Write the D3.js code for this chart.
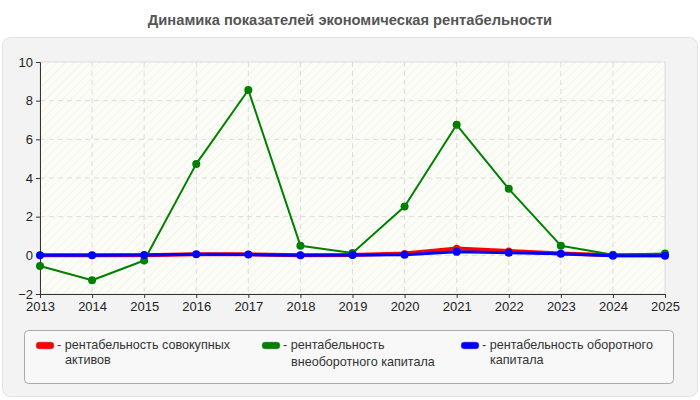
<!DOCTYPE html>
<html><head><meta charset="utf-8">
<script src="https://cdn.jsdelivr.net/npm/d3@7"></script>
<style>body{margin:0;background:#fff;}svg{display:block;font-family:"Liberation Sans",Arial,sans-serif;}</style>
</head><body>
<svg id="c" width="700" height="400"></svg>
<script>
const title = "Динамика показателей экономическая рентабельности";
const years = [2013,2014,2015,2016,2017,2018,2019,2020,2021,2022,2023,2024,2025];
const assets = [0,0,0,0.05,0.05,0,0.02,0.1,0.36,0.22,0.1,0,0];
const nonCurrent = [-0.55,-1.29,-0.27,4.73,8.55,0.5,0.12,2.53,6.75,3.44,0.5,0.03,0.1];
const current = [0,0,0.02,0.05,0.04,0,0.02,0.03,0.18,0.14,0.08,-0.02,-0.02];
const yTicks = [-2,0,2,4,6,8,10];
const seriesNames = [["рентабельность совокупных","активов"],["рентабельность","внеоборотного капитала"],["рентабельность оборотного","капитала"]];
const colors = ["#ff0000","#008000","#0000ff"];

const svg = d3.select("#c");
const defs = svg.append("defs");
const pat = defs.append("pattern").attr("id","hatch").attr("patternUnits","userSpaceOnUse")
  .attr("width",6).attr("height",6).attr("patternTransform","rotate(45)");
pat.append("rect").attr("width",6).attr("height",6).attr("fill","#fdfdf7");
pat.append("line").attr("x1",0).attr("y1",0).attr("x2",0).attr("y2",6).attr("stroke","#ececea").attr("stroke-width",1.2);

// title
svg.append("text").attr("x",350).attr("y",25).attr("text-anchor","middle")
  .attr("font-size",14.7).attr("font-weight","bold").attr("fill","#555").text(title);
// panel
svg.append("rect").attr("x",2.5).attr("y",37.5).attr("width",695).attr("height",359).attr("rx",8)
  .attr("fill","#f3f3f3").attr("stroke","#e2e2e2");

const x = d3.scalePoint().domain(years).range([40,665]);
const y = d3.scaleLinear().domain([-2,10]).range([294,62]);

svg.append("rect").attr("x",40).attr("y",62).attr("width",625).attr("height",232)
  .attr("fill","url(#hatch)").attr("stroke","#dcdcdc");

// grid
const g = svg.append("g");
g.selectAll(".vg").data(years.slice(1,-1)).join("line")
  .attr("x1",d=>x(d)).attr("x2",d=>x(d)).attr("y1",62).attr("y2",294)
  .attr("stroke","#dcdcdc").attr("stroke-dasharray","5,4");
g.selectAll(".hg").data(yTicks.slice(1,-1)).join("line")
  .attr("x1",40).attr("x2",665).attr("y1",d=>y(d)).attr("y2",d=>y(d))
  .attr("stroke","#dcdcdc").attr("stroke-dasharray","5,4");

// axes
const xa = svg.append("g").attr("transform","translate(0,294)")
  .call(d3.axisBottom(x).tickSize(4).tickPadding(4));
const ya = svg.append("g").attr("transform","translate(40,0)")
  .call(d3.axisLeft(y).tickValues(yTicks).tickSize(4).tickPadding(3));
[xa,ya].forEach(a=>{
  a.selectAll("path").attr("stroke","#333");
  a.selectAll("line").attr("stroke","#333");
  a.selectAll("text").attr("font-size",13).attr("fill","#222").attr("font-family","'Liberation Sans',Arial,sans-serif");
});

const data = [assets, nonCurrent, current];
const widths = [4,2,3];
const radii = [3.5,4,4];
const line = d3.line().x((d,i)=>x(years[i])).y(d=>y(d));
data.forEach((s,k)=>{
  svg.append("path").datum(s).attr("d",line).attr("fill","none")
    .attr("stroke",colors[k]).attr("stroke-width",widths[k]).attr("stroke-linejoin","round");
  svg.append("g").selectAll("circle").data(s).join("circle")
    .attr("cx",(d,i)=>x(years[i])).attr("cy",d=>y(d)).attr("r",radii[k]).attr("fill",colors[k]);
});

// legend
svg.append("rect").attr("x",24.5).attr("y",330.5).attr("width",649).attr("height",53).attr("rx",4)
  .attr("fill","#f8f8f8").attr("stroke","#aaa");
const legX = [36,262,461];
const lineGap = [14.5,16.5,14.5];
seriesNames.forEach((nm,k)=>{
  svg.append("rect").attr("x",legX[k]).attr("y",342).attr("width",18).attr("height",7).attr("rx",3)
    .attr("fill",colors[k]).attr("stroke","#999").attr("stroke-width",0.5);
  nm.forEach((ln,j)=>svg.append("text")
    .attr("x",j===0?legX[k]+21:legX[k]+29).attr("y",349+j*lineGap[k])
    .attr("font-size",12.6).attr("fill","#333")
    .text(j===0?"- "+ln:ln));
});
</script>
</body></html>
